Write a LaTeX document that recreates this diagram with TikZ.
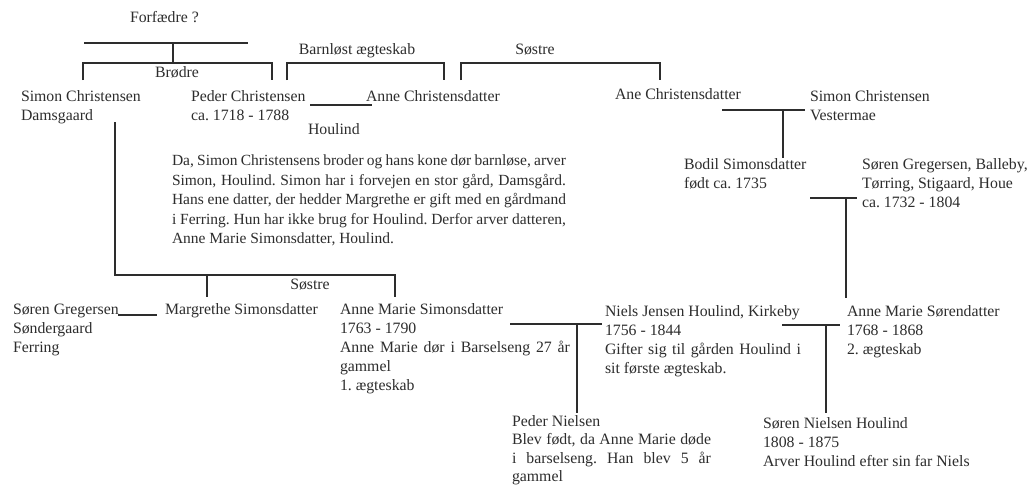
\documentclass[tikz,border=0pt]{standalone}
\usepackage{fontspec}
\setmainfont{Liberation Serif}
\frenchspacing
\definecolor{ink}{RGB}{45,45,45}
\tikzset{
  txt/.style={anchor=north west, inner sep=0pt, outer sep=0pt, align=left,
    font=\fontsize{15.8}{19}\selectfont, text=ink},
  lbl/.style={anchor=north, inner sep=0pt, outer sep=0pt,
    font=\fontsize{15.8}{19}\selectfont, text=ink},
  conn/.style={draw=ink, line width=1.6pt}
}
\begin{document}
\begin{tikzpicture}[x=1pt,y=-1pt]
\useasboundingbox[fill=white] (0,0) rectangle (1028,485);

% ---- text nodes ----
\node[txt] (forf) at (130,9.2) {\strut Forfædre ?};
\node[lbl] (barn) at (357,41.2) {\strut Barnløst ægteskab};
\node[lbl] (sos1) at (535,41.2) {\strut Søstre};
\node[lbl] (brod) at (177,64.2) {\strut Brødre};
\node[txt] (simon) at (21,88.2) {\strut Simon Christensen\\Damsgaard};
\node[txt] (peder) at (191,88.2) {\strut Peder Christensen\\ca. 1718 - 1788};
\node[txt] (anne) at (366,88.2) {\strut Anne Christensdatter};
\node[txt] (houl) at (308,121.2) {\strut Houlind};
\node[txt] (ane) at (615,86.2) {\strut Ane Christensdatter};
\node[txt] (simonv) at (810,88.2) {\strut Simon Christensen\\Vestermae};
\node[txt] (bodil) at (684,156.2) {\strut Bodil Simonsdatter\\født ca. 1735};
\node[txt] (sorenb) at (862,156.2) {\strut Søren Gregersen, Balleby,\\Tørring, Stigaard, Houe\\ca. 1732 - 1804};
\node[txt, font=\fontsize{15.5}{19.5}\selectfont] (para) at (172,152) {\strut\makebox[394pt][s]{Da, Simon Christensens broder og hans kone dør barnløse, arver}\\
\makebox[394pt][s]{Simon, Houlind. Simon har i forvejen en stor gård, Damsgård.}\\
\makebox[394pt][s]{Hans ene datter, der hedder Margrethe er gift med en gårdmand}\\
\makebox[394pt][s]{i Ferring. Hun har ikke brug for Houlind. Derfor arver datteren,}\\
Anne Marie Simonsdatter, Houlind.};
\node[lbl] (sos2) at (310,276.2) {\strut Søstre};
\node[txt] (sorens) at (13,301.2) {\strut Søren Gregersen\\Søndergaard\\Ferring};
\node[txt] (marg) at (165,301.2) {\strut Margrethe Simonsdatter};
\node[txt] (annem) at (340,301.2) {\strut Anne Marie Simonsdatter\\1763 - 1790\\\makebox[230pt][s]{Anne Marie dør i Barselseng 27 år}\\gammel\\1. ægteskab};
\node[txt] (niels) at (605,303.2) {\strut Niels Jensen Houlind, Kirkeby\\1756 - 1844\\\makebox[196pt][s]{Gifter sig til gården Houlind i}\\sit første ægteskab.};
\node[txt] (annes) at (847,303.2) {\strut Anne Marie Sørendatter\\1768 - 1868\\2. ægteskab};
\node[txt, font=\fontsize{15.8}{18.5}\selectfont] (pedern) at (512,413.5) {\strut Peder Nielsen\\\makebox[199pt][s]{Blev født, da Anne Marie døde}\\\makebox[199pt][s]{i barselseng. Han blev 5 år}\\gammel};
\node[txt] (sorenn) at (763,415.2) {\strut Søren Nielsen Houlind\\1808 - 1875\\Arver Houlind efter sin far Niels};

% ---- junction coordinates ----
\coordinate (fL) at (84,43);   \coordinate (fR) at (248,43);
\coordinate (fM) at (173,43);  \coordinate (bM) at (173,63);
\coordinate (bL0) at (83,80);  \coordinate (bL1) at (83,63);
\coordinate (bR1) at (272,63); \coordinate (bR0) at (272,80);
\coordinate (aL0) at (287,80); \coordinate (aL1) at (287,63);
\coordinate (aR1) at (444,63); \coordinate (aR0) at (444,80);
\coordinate (sL0) at (461,80); \coordinate (sL1) at (461,63);
\coordinate (sR1) at (660,63); \coordinate (sR0) at (660,80);
\coordinate (pa1) at (310,105); \coordinate (pa2) at (372,105);
\coordinate (sd0) at (115,122); \coordinate (sd1) at (115,275);
\coordinate (sd2) at (395,275); \coordinate (sd3) at (395,297);
\coordinate (sm1) at (207,275); \coordinate (sm2) at (207,297);
\coordinate (sg1) at (118,315); \coordinate (sg2) at (157,315);
\coordinate (an1) at (510,324); \coordinate (an2) at (602,324);
\coordinate (an3) at (577,324); \coordinate (an4) at (577,413);
\coordinate (ns1) at (782,325); \coordinate (ns2) at (840,325);
\coordinate (ns3) at (826,325); \coordinate (ns4) at (826,413);
\coordinate (av1) at (722,110); \coordinate (av2) at (805,110);
\coordinate (av3) at (783,110); \coordinate (av4) at (783,158);
\coordinate (bs1) at (810,198); \coordinate (bs2) at (857,198);
\coordinate (bs3) at (846,198); \coordinate (bs4) at (846,298);

% ---- connectors ----
\draw[conn] (fL) -- (fR);
\draw[conn] (fM) -- (bM);
\draw[conn] (bL0) -- (bL1) -- (bR1) -- (bR0);
\draw[conn] (aL0) -- (aL1) -- (aR1) -- (aR0);
\draw[conn] (sL0) -- (sL1) -- (sR1) -- (sR0);
\draw[conn] (pa1) -- (pa2);
\draw[conn] (sd0) -- (sd1) -- (sd2) -- (sd3);
\draw[conn] (sm1) -- (sm2);
\draw[conn] (sg1) -- (sg2);
\draw[conn] (an1) -- (an2);
\draw[conn] (an3) -- (an4);
\draw[conn] (ns1) -- (ns2);
\draw[conn] (ns3) -- (ns4);
\draw[conn] (av1) -- (av2);
\draw[conn] (av3) -- (av4);
\draw[conn] (bs1) -- (bs2);
\draw[conn] (bs3) -- (bs4);
\end{tikzpicture}
\end{document}
